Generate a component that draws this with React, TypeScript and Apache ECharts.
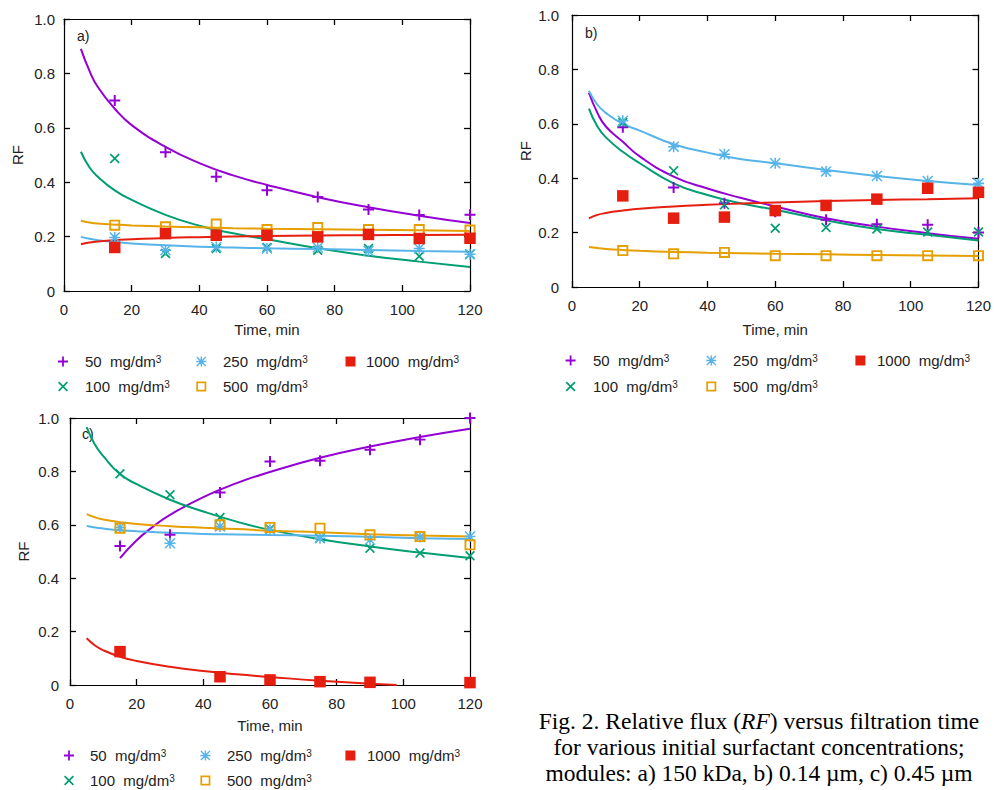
import React, { useEffect, useRef } from 'react';
import * as echarts from 'echarts';

// ---------- data ----------
const TIMES = [15, 30, 45, 60, 75, 90, 105, 120];
const CONC_LABELS = ['50  mg/dm³', '100  mg/dm³', '250  mg/dm³', '500  mg/dm³', '1000  mg/dm³'];
const X_TICKS = [0, 20, 40, 60, 80, 100, 120];
const Y_TICKS = [0, 0.2, 0.4, 0.6, 0.8, 1.0];
const PANEL_LETTERS = ['a)', 'b)', 'c)'];
const CAPTION_LINES = [
  'Fig. 2. Relative flux (|RF|) versus filtration time',
  'for various initial surfactant concentrations;',
  'modules: a) 150 kDa, b) 0.14 µm, c) 0.45 µm',
];

// measured points (panel a)
const A_50 = [0.70, 0.51, 0.42, 0.37, 0.346, 0.30, 0.279, 0.28];
const A_100 = [0.487, 0.138, 0.156, 0.16, 0.15, 0.156, 0.128, 0.135];
const A_250 = [0.197, 0.15, 0.162, 0.156, 0.16, 0.147, 0.156, 0.135];
const A_500 = [0.242, 0.236, 0.246, 0.226, 0.233, 0.226, 0.226, 0.224];
const A_1000 = [0.16, 0.211, 0.205, 0.205, 0.199, 0.208, 0.193, 0.194];
// panel b
const B_50 = [0.587, 0.366, 0.308, 0.277, 0.247, 0.231, 0.229, 0.20];
const B_100 = [0.605, 0.427, 0.302, 0.216, 0.219, 0.213, 0.202, 0.202];
const B_250 = [0.611, 0.516, 0.488, 0.455, 0.425, 0.408, 0.39, 0.381];
const B_500 = [0.134, 0.122, 0.127, 0.115, 0.115, 0.115, 0.115, 0.115];
const B_1000 = [0.335, 0.253, 0.257, 0.281, 0.30, 0.323, 0.363, 0.348];
// panel c
const C_50 = [0.521, 0.5625, 0.721, 0.8375, 0.84, 0.881, 0.919, 1.0];
const C_100 = [0.791, 0.7125, 0.6275, 0.584, 0.55, 0.5125, 0.494, 0.484];
const C_250 = [0.59, 0.531, 0.594, 0.581, 0.55, 0.544, 0.554, 0.556];
const C_500 = [0.5875, null, 0.60, 0.59, 0.5875, 0.5625, 0.556, 0.525];
const C_1000 = [0.125, null, 0.031, 0.019, 0.0125, 0.01, null, 0.009];

// fitted curves
const FIT_T = [5, 7.5, 10, 15, 20, 30, 40, 50, 60, 75, 90, 105, 120];
const A_FIT_50 = [0.89, 0.81, 0.75, 0.67, 0.61, 0.53, 0.47, 0.425, 0.39, 0.345, 0.308, 0.277, 0.25];
const A_FIT_100 = [0.512, 0.455, 0.42, 0.37, 0.335, 0.28, 0.24, 0.212, 0.19, 0.157, 0.13, 0.108, 0.088];
const A_FIT_250 = [0.199, 0.192, 0.187, 0.18, 0.175, 0.168, 0.163, 0.16, 0.157, 0.154, 0.151, 0.147, 0.144];
const A_FIT_500 = [0.258, 0.252, 0.248, 0.244, 0.241, 0.237, 0.234, 0.231, 0.229, 0.227, 0.225, 0.223, 0.221];
const A_FIT_1000 = [0.172, 0.178, 0.182, 0.187, 0.19, 0.195, 0.198, 0.2, 0.202, 0.204, 0.205, 0.206, 0.207];

const B_FIT_50 = [0.714, 0.64, 0.59, 0.534, 0.48, 0.406, 0.362, 0.327, 0.296, 0.253, 0.222, 0.198, 0.177];
const B_FIT_100 = [0.656, 0.59, 0.55, 0.497, 0.455, 0.381, 0.338, 0.307, 0.284, 0.245, 0.213, 0.192, 0.171];
const B_FIT_250 = [0.721, 0.67, 0.64, 0.60, 0.575, 0.525, 0.494, 0.47, 0.455, 0.43, 0.408, 0.39, 0.375];
const B_FIT_500 = [0.147, 0.143, 0.14, 0.136, 0.133, 0.129, 0.126, 0.124, 0.122, 0.12, 0.118, 0.116, 0.114];
const B_FIT_1000 = [0.252, 0.265, 0.272, 0.281, 0.288, 0.296, 0.302, 0.307, 0.311, 0.316, 0.32, 0.323, 0.326];

const C_FIT50_T = [15, 20, 25, 30, 40, 50, 60, 75, 90, 105, 120];
const C_FIT_50 = [0.475, 0.542, 0.594, 0.637, 0.704, 0.756, 0.798, 0.851, 0.893, 0.929, 0.96];
const C_FIT_100 = [0.966, 0.9, 0.857, 0.79, 0.752, 0.694, 0.65, 0.612, 0.581, 0.546, 0.519, 0.496, 0.476];
const C_FIT_250 = [0.596, 0.59, 0.586, 0.58, 0.576, 0.57, 0.566, 0.564, 0.562, 0.559, 0.555, 0.55, 0.547];
const C_FIT_500 = [0.64, 0.628, 0.62, 0.61, 0.603, 0.595, 0.589, 0.584, 0.578, 0.572, 0.565, 0.56, 0.556];
const C_FIT1000_T = [5, 7.5, 10, 15, 20, 30, 40, 50, 60, 75, 90, 98];
const C_FIT_1000 = [0.175, 0.148, 0.13, 0.106, 0.09, 0.068, 0.052, 0.04, 0.03, 0.016, 0.005, 0];

// ---------- style ----------
const COLORS = ['#9400D3', '#009E73', '#56B4E9', '#E69F00', '#E51E10'];
const SYMBOLS = [
  'path://M4.1,0H5.9V4.1H10V5.9H5.9V10H4.1V5.9H0V4.1H4.1Z',
  'path://M0,1.2L1.2,0L5,3.8L8.8,0L10,1.2L6.2,5L10,8.8L8.8,10L5,6.2L1.2,10L0,8.8L3.8,5Z',
  'path://M4.3,0H5.7V4.3H10V5.7H5.7V10H4.3V5.7H0V4.3H4.3Z M0.95,0L5,4.05L9.05,0L10,0.95L5.95,5L10,9.05L9.05,10L5,5.95L0.95,10L0,9.05L4.05,5L0,0.95Z',
  'path://M0,0H10V10H0Z M1.7,1.7V8.3H8.3V1.7Z',
  'path://M0,0H10V10H0Z',
];
const SIZES = [11, 10, 11, 11, 11.5];
const FONT = 'Liberation Sans';
const TXT = '#222';

type Panel = {
  grid: { left: number; top: number; width: number; height: number };
  yLabelMargin: number;
  xNameGap: number;
  letter: [number, number];
  legendX: number[];
  legendRows: number[];
  textOffsets: number[];
  points: (number | null)[][];
  fits: { t: number[]; v: number[] }[];
};

const PANELS: Panel[] = [
  {
    grid: { left: 64, top: 19, width: 406, height: 272 },
    yLabelMargin: 9,
    xNameGap: 31,
    letter: [77, 36],
    legendX: [75, 213, 356],
    legendRows: [363, 388],
    textOffsets: [22, 21.7, 15.5],
    points: [A_50, A_100, A_250, A_500, A_1000],
    fits: [
      { t: FIT_T, v: A_FIT_50 },
      { t: FIT_T, v: A_FIT_100 },
      { t: FIT_T, v: A_FIT_250 },
      { t: FIT_T, v: A_FIT_500 },
      { t: FIT_T, v: A_FIT_1000 },
    ],
  },
  {
    grid: { left: 572, top: 15, width: 409, height: 272 },
    yLabelMargin: 13,
    xNameGap: 35,
    letter: [585, 33],
    legendX: [583, 723, 867],
    legendRows: [362, 388],
    textOffsets: [22.4, 21.7, 16.6],
    points: [B_50, B_100, B_250, B_500, B_1000],
    fits: [
      { t: FIT_T, v: B_FIT_50 },
      { t: FIT_T, v: B_FIT_100 },
      { t: FIT_T, v: B_FIT_250 },
      { t: FIT_T, v: B_FIT_500 },
      { t: FIT_T, v: B_FIT_1000 },
    ],
  },
  {
    grid: { left: 70, top: 418, width: 400, height: 267 },
    yLabelMargin: 11,
    xNameGap: 33,
    letter: [82, 434],
    legendX: [80, 217, 357],
    legendRows: [757, 782],
    textOffsets: [21, 21.6, 16.6],
    points: [C_50, C_100, C_250, C_500, C_1000],
    fits: [
      { t: C_FIT50_T, v: C_FIT_50 },
      { t: FIT_T, v: C_FIT_100 },
      { t: FIT_T, v: C_FIT_250 },
      { t: FIT_T, v: C_FIT_500 },
      { t: C_FIT1000_T, v: C_FIT_1000 },
    ],
  },
];

// legend layout: column/row of each concentration
const LEGEND_SLOTS = [
  [0, 0],
  [0, 1],
  [1, 0],
  [1, 1],
  [2, 0],
];

function buildOption() {
  const grids: any[] = [];
  const xAxes: any[] = [];
  const yAxes: any[] = [];
  const series: any[] = [];
  const legends: any[] = [];
  const graphics: any[] = [];

  const axisLine = { show: true, onZero: false, lineStyle: { color: '#000', width: 1.2 } };
  const axisTick = { show: true, inside: true, length: 6, lineStyle: { color: '#000', width: 1.3 } };

  PANELS.forEach((p, i) => {
    grids.push({ ...p.grid, containLabel: false });
    xAxes.push({
      type: 'value', gridIndex: i, min: X_TICKS[0], max: X_TICKS[X_TICKS.length - 1], interval: X_TICKS[1] - X_TICKS[0],
      position: 'bottom', axisLine, axisTick, splitLine: { show: false },
      axisLabel: { show: true, margin: 11, color: TXT, fontSize: 15, fontFamily: FONT, showMinLabel: true, showMaxLabel: true },
      name: 'Time, min', nameLocation: 'middle', nameGap: p.xNameGap,
      nameTextStyle: { color: TXT, fontSize: 15, fontFamily: FONT },
    });
    xAxes.push({
      type: 'value', gridIndex: i, min: X_TICKS[0], max: X_TICKS[X_TICKS.length - 1], interval: X_TICKS[1] - X_TICKS[0],
      position: 'top', axisLine, axisTick, splitLine: { show: false }, axisLabel: { show: false },
    });
    yAxes.push({
      type: 'value', gridIndex: i, min: Y_TICKS[0], max: Y_TICKS[Y_TICKS.length - 1], interval: Y_TICKS[1] - Y_TICKS[0],
      position: 'left', axisLine, axisTick, splitLine: { show: false },
      axisLabel: {
        show: true, margin: p.yLabelMargin, color: TXT, fontSize: 15, fontFamily: FONT,
        formatter: (v: number) => (v === 0 ? '0' : v.toFixed(1)),
      },
      name: 'RF', nameLocation: 'middle', nameGap: 39, nameRotate: 90,
      nameTextStyle: { color: TXT, fontSize: 15, fontFamily: FONT },
    });
    yAxes.push({
      type: 'value', gridIndex: i, min: Y_TICKS[0], max: Y_TICKS[Y_TICKS.length - 1], interval: Y_TICKS[1] - Y_TICKS[0],
      position: 'right', axisLine, axisTick, splitLine: { show: false }, axisLabel: { show: false },
    });

    CONC_LABELS.forEach((label, k) => {
      const fit = p.fits[k];
      series.push({
        type: 'line', name: `fit-${i}-${k}`, xAxisIndex: 2 * i, yAxisIndex: 2 * i,
        data: fit.t.map((t, j) => [t, fit.v[j]]),
        symbol: 'none', showSymbol: false, smooth: 0.5,
        lineStyle: { color: COLORS[k], width: 2 }, itemStyle: { color: COLORS[k] },
        silent: true, z: 2,
      });
      const pts = p.points[k];
      series.push({
        type: 'scatter', name: label, xAxisIndex: 2 * i, yAxisIndex: 2 * i,
        data: TIMES.map((t, j) => (pts[j] == null ? null : [t, pts[j]])).filter((d) => d !== null),
        symbol: SYMBOLS[k], symbolSize: SIZES[k], symbolKeepAspect: true,
        itemStyle: { color: COLORS[k], opacity: 1 },
        z: 3,
      });

      const [col, row] = LEGEND_SLOTS[k];
      const off = p.textOffsets[col];
      const w = 2 * (off - 5);
      legends.push({
        data: [{ name: label, icon: SYMBOLS[k] }],
        left: p.legendX[col] - w / 2,
        top: p.legendRows[row] - 9,
        padding: 0,
        itemWidth: w,
        itemHeight: 10,
        symbolKeepAspect: true,
        selectedMode: false,
        formatter: (name: string) => name.replace('³', '{s|3}'),
        textStyle: {
          color: TXT, fontSize: 15, fontFamily: FONT,
          rich: { s: { color: TXT, fontSize: 10, fontFamily: FONT, verticalAlign: 'top', lineHeight: 12 } },
        },
      });
    });

    graphics.push({
      type: 'text', x: p.letter[0], y: p.letter[1],
      style: { text: PANEL_LETTERS[i], fill: TXT, fontSize: 14, fontFamily: FONT, align: 'left', verticalAlign: 'middle' },
    });
  });

  const capY = [721, 747, 773];
  CAPTION_LINES.forEach((line, i) => {
    const parts = line.split('|');
    const text = parts.map((s, j) => (j % 2 === 1 ? `{i|${s}}` : `{n|${s}}`)).join('');
    graphics.push({
      type: 'text', x: 759, y: capY[i],
      style: {
        text, fill: '#000', align: 'center', verticalAlign: 'middle',
        fontSize: 23.5, fontFamily: 'Liberation Serif',
        rich: {
          n: { fontSize: 23.5, fontFamily: 'Liberation Serif', fill: '#000' },
          i: { fontSize: 23.5, fontFamily: 'Liberation Serif', fontStyle: 'italic', fill: '#000' },
        },
      },
    });
  });

  return {
    animation: false,
    backgroundColor: '#fff',
    grid: grids,
    xAxis: xAxes,
    yAxis: yAxes,
    legend: legends,
    series,
    graphic: graphics,
  };
}

export default function App() {
  const ref = useRef<HTMLDivElement>(null);
  useEffect(() => {
    if (!ref.current) return;
    const chart = echarts.init(ref.current, undefined, { renderer: 'svg' });
    chart.setOption(buildOption() as any);
    return () => chart.dispose();
  }, []);
  return (
    <div
      ref={ref}
      style={{ position: 'fixed', left: 0, top: 0, width: 994, height: 790, background: '#fff' }}
    />
  );
}
